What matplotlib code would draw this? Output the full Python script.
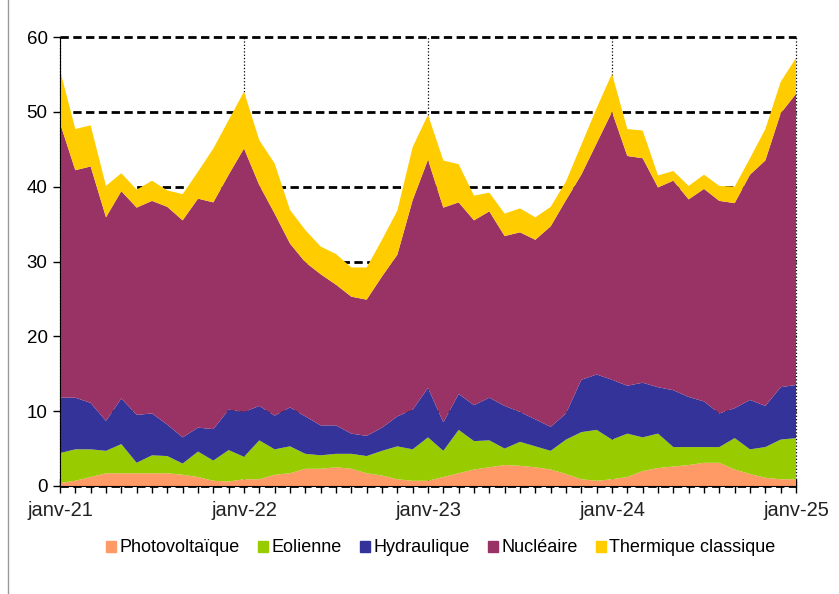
import matplotlib
matplotlib.use("Agg")
import matplotlib.pyplot as plt
import matplotlib.patches as mpatches
from matplotlib.ticker import MultipleLocator
import numpy as np

# production mensuelle (TWh) par filiere, janv-21 -> janv-25
photovoltaique = [0.4, 0.7, 1.2, 1.7, 1.7, 1.7, 1.7, 1.7, 1.5, 1.2, 0.7, 0.6,
                  0.9, 0.9, 1.5, 1.7, 2.3, 2.3, 2.5, 2.3, 1.7, 1.4, 0.9, 0.7,
                  0.7, 1.2, 1.7, 2.2, 2.5, 2.8, 2.7, 2.5, 2.2, 1.6, 0.9, 0.7,
                  0.9, 1.2, 2.0, 2.4, 2.6, 2.8, 3.1, 3.1, 2.2, 1.6, 1.1, 0.9,
                  0.9]
eolienne = [4.0, 4.2, 3.7, 3.0, 3.9, 1.4, 2.4, 2.3, 1.5, 3.4, 2.7, 4.2,
            3.0, 5.2, 3.4, 3.6, 2.0, 1.8, 1.8, 2.0, 2.3, 3.3, 4.4, 4.2,
            5.8, 3.5, 5.8, 3.8, 3.6, 2.2, 3.2, 2.8, 2.5, 4.6, 6.3, 6.8,
            5.3, 5.8, 4.5, 4.6, 2.6, 2.4, 2.1, 2.1, 4.2, 3.3, 4.1, 5.3,
            5.5]
hydraulique = [7.4, 6.9, 6.2, 4.0, 6.1, 6.4, 5.6, 4.2, 3.5, 3.2, 4.2, 5.4,
               6.0, 4.6, 4.5, 5.2, 5.0, 4.0, 3.8, 2.7, 2.7, 3.1, 4.0, 5.3,
               6.6, 3.8, 4.8, 4.8, 5.7, 5.7, 4.0, 3.6, 3.2, 3.5, 7.0, 7.4,
               8.0, 6.4, 7.3, 6.2, 7.6, 6.7, 6.1, 4.5, 4.0, 6.6, 5.5, 7.0,
               7.1]
nucleaire = [36.7, 30.4, 31.6, 27.2, 27.7, 27.7, 28.4, 29.1, 29.0, 30.6, 30.3, 31.4,
             35.2, 29.5, 27.0, 21.9, 20.6, 20.2, 18.8, 18.3, 18.2, 20.2, 21.6, 28.0,
             30.5, 28.7, 25.6, 24.7, 24.9, 22.7, 24.0, 24.0, 26.8, 28.5, 27.4, 30.9,
             35.8, 30.7, 30.0, 26.7, 28.0, 26.4, 28.4, 28.4, 27.4, 30.1, 32.8, 36.6,
             38.9]
thermique = [7.1, 5.5, 5.5, 4.2, 2.4, 2.4, 2.7, 2.2, 3.5, 3.6, 7.2, 7.3,
             7.6, 6.0, 6.7, 4.5, 4.3, 3.7, 4.1, 3.9, 4.3, 4.9, 5.9, 7.1,
             6.0, 6.3, 5.1, 3.3, 2.5, 3.0, 3.2, 3.0, 2.6, 2.5, 4.0, 4.7,
             5.1, 3.6, 3.7, 1.6, 1.3, 1.8, 1.9, 2.0, 2.2, 2.2, 4.2, 4.2,
             4.8]

series_labels = ["Photovoltaïque", "Eolienne", "Hydraulique", "Nucléaire", "Thermique classique"]
colors = ["#FF9966", "#99CC00", "#333399", "#993366", "#FFCC00"]
year_labels = ["janv-21", "janv-22", "janv-23", "janv-24", "janv-25"]

x = np.arange(len(photovoltaique))

fig = plt.figure(figsize=(8.39, 5.94), dpi=100)
ax = fig.add_axes([60 / 839, 1 - 486 / 594, 736 / 839, 449 / 594])

ax.stackplot(x, photovoltaique, eolienne, hydraulique, nucleaire, thermique,
             colors=colors, linewidth=0, zorder=2)

ax.set_xlim(0, 48)
ax.set_ylim(0, 60)
ax.set_xticks(x[::12])
ax.set_xticklabels(year_labels, family=["Liberation Sans Narrow", "Liberation Sans"],
                   fontsize=14.5, color="#222222")
ax.xaxis.set_minor_locator(MultipleLocator(1))
ax.tick_params(axis="x", which="major", direction="inout", length=10, width=1, pad=6)
ax.tick_params(axis="x", which="minor", direction="out", length=5, width=1)
ax.yaxis.set_major_locator(MultipleLocator(10))
ax.tick_params(axis="y", direction="out", length=5, width=1, labelsize=13.5, pad=4)
for lab in ax.get_yticklabels():
    lab.set_family("Liberation Sans")

ax.set_axisbelow(True)
ax.yaxis.grid(True, color="black", linestyle=(0, (3, 1.6)), linewidth=2)
ax.xaxis.grid(True, which="major", color="black", linestyle=":", linewidth=0.9)
for gl in ax.get_ygridlines() + ax.get_xgridlines():
    gl.set_clip_on(False)

ax.spines["top"].set_visible(False)
ax.spines["right"].set_visible(False)
ax.spines["left"].set_zorder(3)
ax.spines["bottom"].set_zorder(3)

handles = [mpatches.Patch(color=c) for c in colors]
fig.legend(handles, series_labels, loc="center", bbox_to_anchor=(441 / 839, 1 - 548 / 594),
           ncol=5, frameon=False, handlelength=0.55, handleheight=0.55,
           handletextpad=0.2, columnspacing=1.0, prop={"family": "Liberation Sans", "size": 13})

fig.add_artist(plt.Line2D([8 / 839, 8 / 839], [0, 1], color="#999999", lw=1,
                          transform=fig.transFigure))

fig.savefig("out.png", dpi=100)
